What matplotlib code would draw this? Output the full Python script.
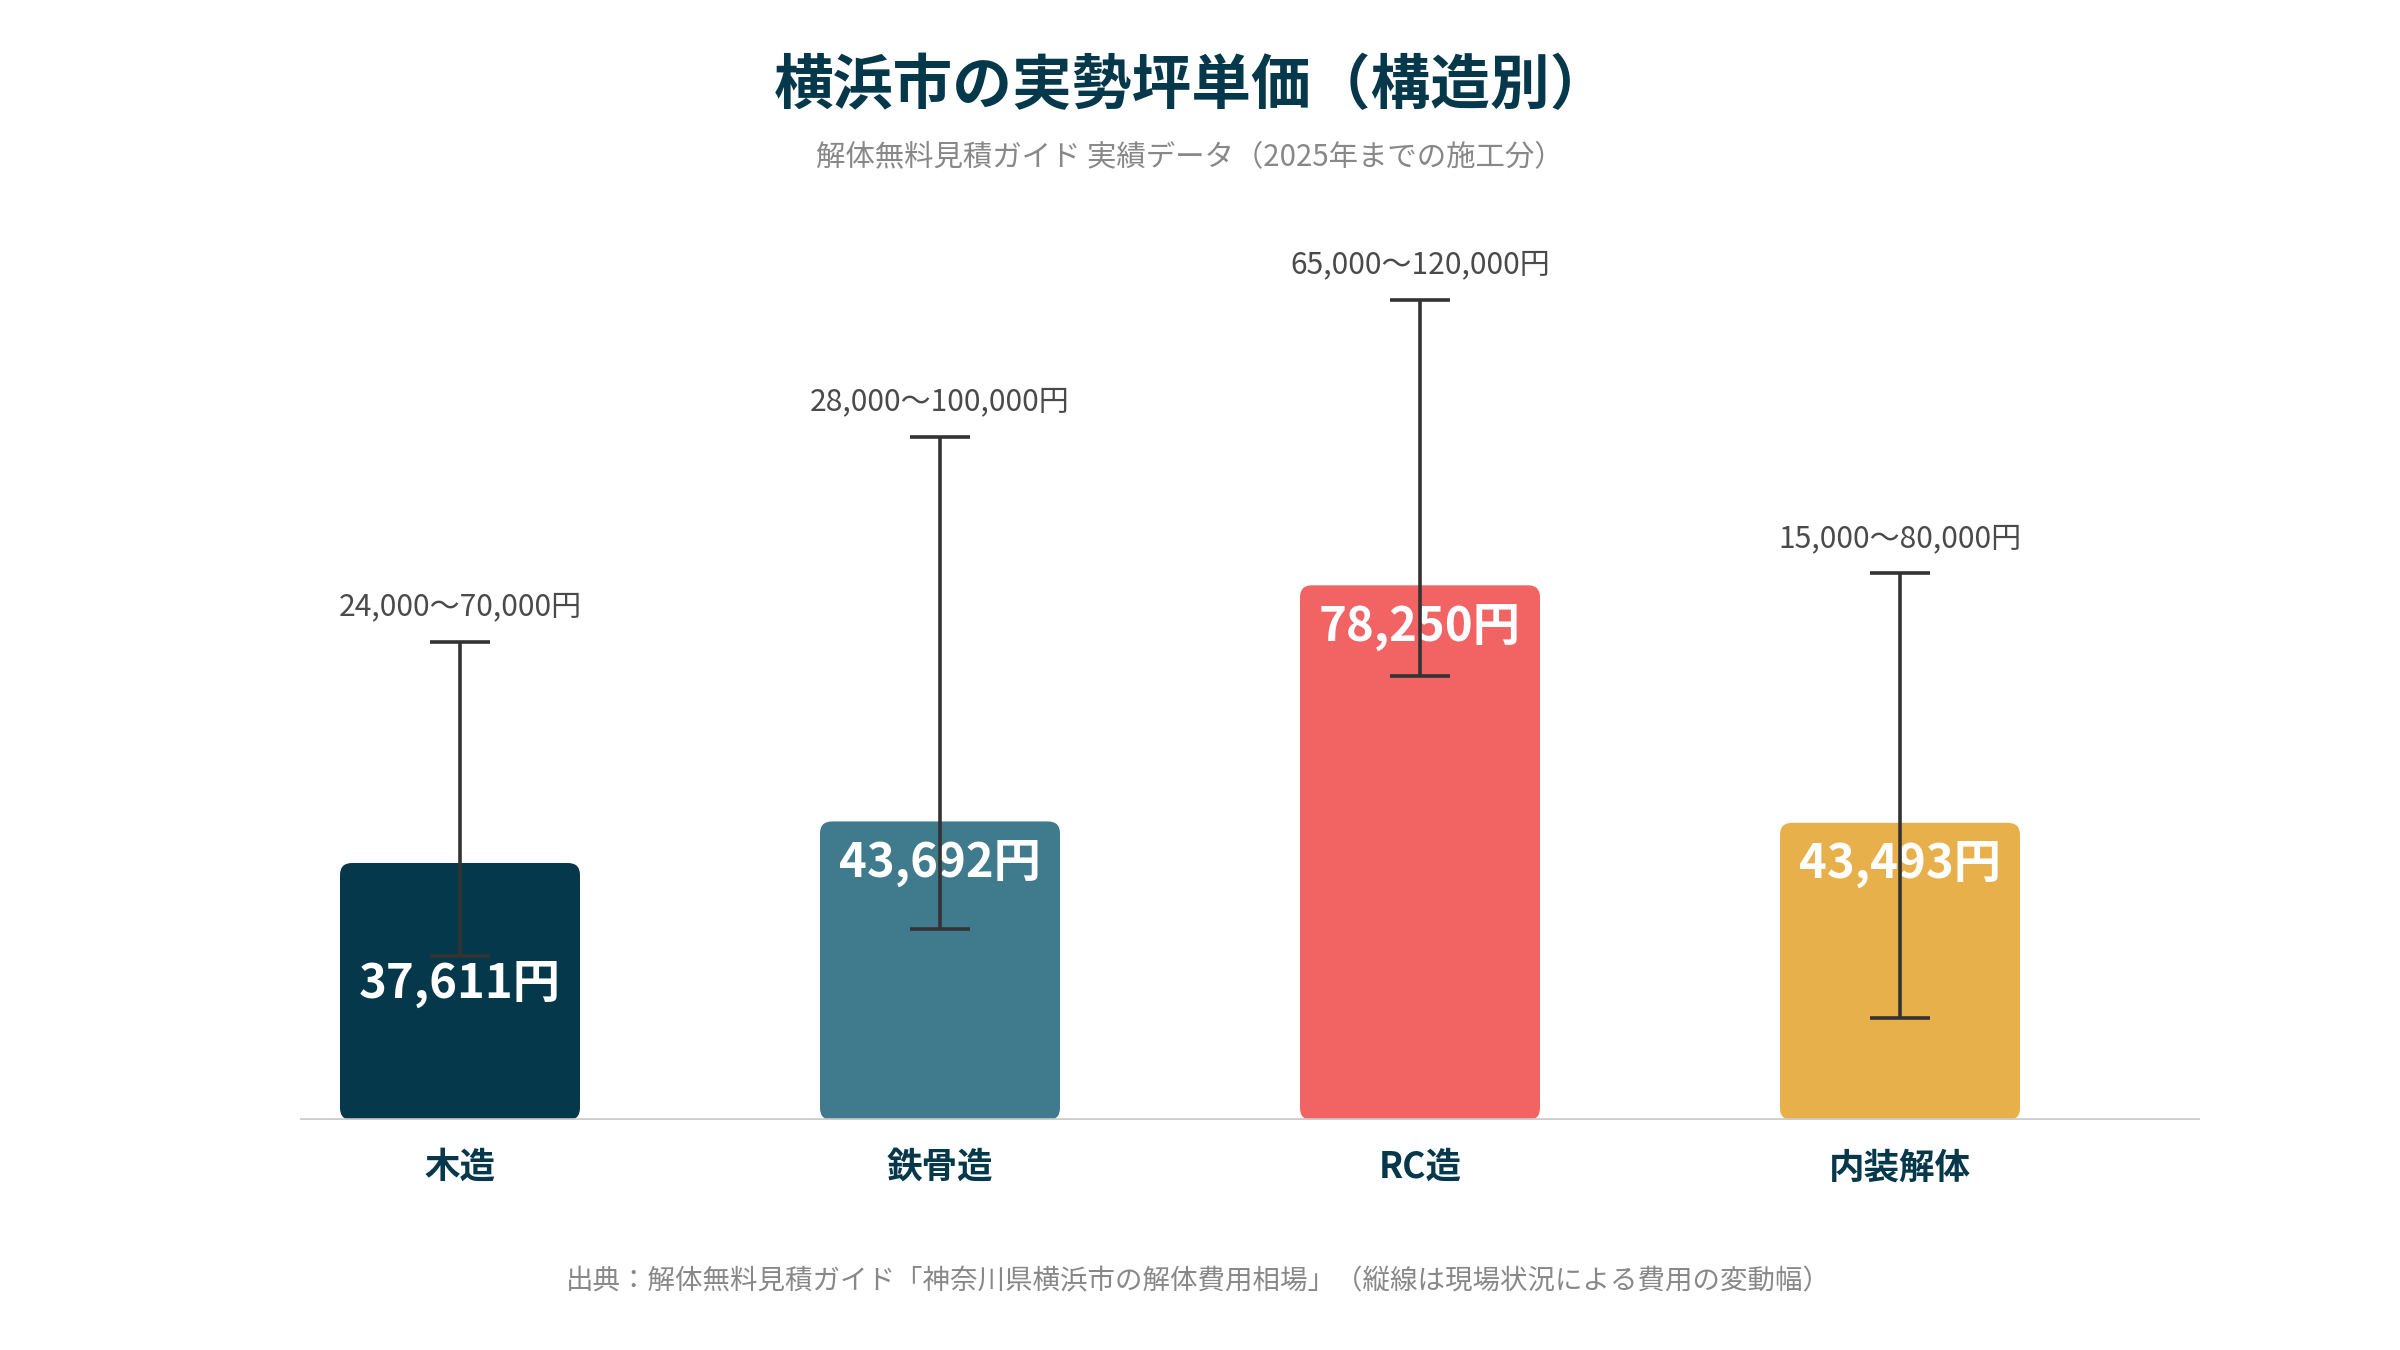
import matplotlib
matplotlib.use("Agg")
import matplotlib.pyplot as plt
from matplotlib.patches import FancyBboxPatch

plt.rcParams['font.family'] = ['Noto Sans CJK JP', 'DejaVu Sans']

categories = ["木造", "鉄骨造", "RC造", "内装解体"]
avg_price = [37611, 43692, 78250, 43493]
range_low = [24000, 28000, 65000, 15000]
range_high = [70000, 100000, 120000, 80000]
bar_colors = ["#06384C", "#3F7B8C", "#F26363", "#E8B04B"]
label_below_low = [True, False, False, False]

title = "横浜市の実勢坪単価（構造別）"
subtitle = "解体無料見積ガイド 実績データ（2025年までの施工分）"
footnote = "出典：解体無料見積ガイド「神奈川県横浜市の解体費用相場」（縦線は現場状況による費用の変動幅）"

W, H, DPI = 2400, 1350, 200
fig = plt.figure(figsize=(W / DPI, H / DPI), dpi=DPI)
fig.patch.set_facecolor("white")

px_per_unit = 0.006833
ymax = 134000
ax_h = ymax * px_per_unit / H
ax = fig.add_axes([300 / W, 230 / H, 1900 / W, ax_h])
ax.set_ylim(0, ymax)
ax.set_xlim(-1 / 3, 3.625)

x = list(range(len(categories)))
bars = ax.bar(x, avg_price, width=0.5, color=bar_colors)

# replace with rounded bars
x_units_per_px = (3.625 + 1 / 3) / 1900
y_units_per_px = 1 / px_per_unit
aspect = y_units_per_px / x_units_per_px
for b in bars:
    bx, by = b.get_x(), b.get_y()
    bw, bh = b.get_width(), b.get_height()
    fc = b.get_facecolor()
    b.remove()
    p = FancyBboxPatch((bx, by), bw, bh,
                       boxstyle="round,pad=0,rounding_size=%f" % (12 * x_units_per_px),
                       mutation_aspect=aspect, fc=fc, ec="none", zorder=2)
    ax.add_patch(p)

ax.axhline(0, color="#cccccc", lw=1.3, zorder=3)

mid = [(lo + hi) / 2 for lo, hi in zip(range_low, range_high)]
err = [[m - lo for m, lo in zip(mid, range_low)], [hi - m for m, hi in zip(mid, range_high)]]
ax.errorbar(x, mid, yerr=err, fmt="none", ecolor="#333333", elinewidth=1.3,
            capsize=10.8, capthick=1.3, zorder=4)

for xi, v, lo, hi, below in zip(x, avg_price, range_low, range_high, label_below_low):
    ax.annotate(f"{lo:,}〜{hi:,}円", (xi, hi), xytext=(0, 12.6), textcoords="offset points",
                ha="center", va="center", fontsize=10.8, color="#4a4a4a", zorder=5)
    if below:
        ax.annotate(f"{v:,}円", (xi, lo), xytext=(0, -10), textcoords="offset points",
                    ha="center", va="center", fontsize=17, fontweight="bold",
                    color="white", zorder=3)
    else:
        ax.annotate(f"{v:,}円", (xi, v), xytext=(0, -15), textcoords="offset points",
                    ha="center", va="center", fontsize=17, fontweight="bold",
                    color="white", zorder=3)

for s in ax.spines.values():
    s.set_visible(False)
ax.set_yticks([])
ax.set_xticks(x)
ax.set_xticklabels(categories, fontsize=12.8, fontweight="bold", color="#06384C")
ax.tick_params(axis="x", length=0, pad=10.5)

fig.text(1192 / W, 1 - 87 / H, title, ha="center", va="center", fontsize=21.5,
         fontweight="bold", color="#06384C")
fig.text(1190 / W, 1 - 158 / H, subtitle, ha="center", va="center", fontsize=10.6,
         color="#888888")
fig.text(1198 / W, 1 - 1282 / H, footnote, ha="center", va="center", fontsize=9.9,
         color="#888888")

fig.savefig("out.png", dpi=DPI)
